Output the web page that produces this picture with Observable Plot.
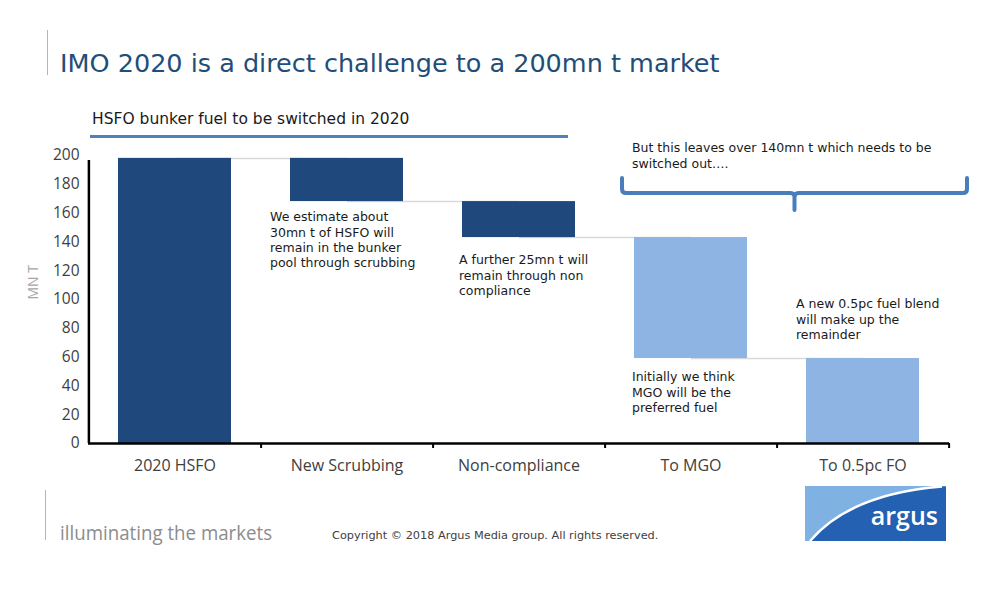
<!DOCTYPE html>
<html>
<head>
<meta charset="utf-8">
<script src="https://cdn.jsdelivr.net/npm/d3@7"></script>
<script src="https://cdn.jsdelivr.net/npm/@observablehq/plot@0.6"></script>
<style>
  body { margin: 0; background: #fff; }
  #page { position: relative; width: 1000px; height: 600px; overflow: hidden; font-family: "DejaVu Sans", Verdana, sans-serif; }
  .vline { position: absolute; width: 1px; background: #b5b5b5; }
  #title { position: absolute; left: 60px; top: 48px; font-size: 25.5px; color: #1f4e79; white-space: nowrap; }
  #subtitle { position: absolute; left: 92px; top: 110px; font-size: 15.5px; color: #1a1a1a; white-space: nowrap; }
  #underline { position: absolute; left: 90px; top: 135px; width: 478px; height: 3px; background: #4f81bd; }
  #chart { position: absolute; left: 0; top: 100px; }
  #tagline { position: absolute; left: 60px; top: 519px; font-family: "Open Sans", sans-serif; font-size: 20px; color: #8c8c8c; white-space: nowrap; transform-origin: 0 0; transform: scaleX(0.935); }
  #copyright { position: absolute; left: 332px; top: 529px; font-size: 11.3px; color: #404040; white-space: nowrap; }
  #logo { position: absolute; left: 805px; top: 486px; }
</style>
</head>
<body>
<div id="page">
  <div class="vline" style="left:47px;top:30px;height:45px;"></div>
  <div id="title">IMO 2020 is a direct challenge to a 200mn t market</div>
  <div id="subtitle">HSFO bunker fuel to be switched in 2020</div>
  <div id="underline"></div>
  <div id="chart"></div>
  <div class="vline" style="left:45px;top:490px;height:50px;"></div>
  <div id="tagline">illuminating the markets</div>
  <div id="copyright">Copyright © 2018 Argus Media group. All rights reserved.</div>
  <svg id="logo" width="141" height="55" viewBox="0 0 141 55">
    <rect width="141" height="55" fill="#2461b2"></rect>
    <path d="M0,0 H141 V0.5 H137 Q45,8 5,55 H0 Z" fill="#7fb1e3"></path>
    <path d="M5,55 Q45,8 137,0.5" fill="none" stroke="#ffffff" stroke-width="2.5"></path>
    <text x="133" y="39" text-anchor="end" fill="#ffffff" font-family="Open Sans, sans-serif" font-weight="600" font-size="25">argus</text>
  </svg>
</div>
<script>
// Waterfall of the 2020 HSFO bunker pool, mn t
const categories = ["2020 HSFO", "New Scrubbing", "Non-compliance", "To MGO", "To 0.5pc FO"];
const amounts = [198, 30, 25, 84, 59];
const isTotal = [true, false, false, false, true];
const shades = ["dark", "dark", "dark", "light", "light"];
const yTicks = [0, 20, 40, 60, 80, 100, 120, 140, 160, 180, 200];

const noteScrubbing = "We estimate about\n30mn t of HSFO will\nremain in the bunker\npool through scrubbing";
const noteNonCompliance = "A further 25mn t will\nremain through non\ncompliance";
const noteMGO = "Initially we think\nMGO will be the\npreferred fuel";
const noteFO = "A new 0.5pc fuel blend\nwill make up the\nremainder";
const noteBracket = "But this leaves over 140mn t which needs to be\nswitched out….";

// Build floating bars: totals start at zero, steps hang from the running level
let level = 0;
const bars = categories.map((c, i) => {
  if (isTotal[i]) {
    level = amounts[i];
    return {c, lo: 0, hi: amounts[i], shade: shades[i]};
  }
  const hi = level;
  level -= amounts[i];
  return {c, lo: level, hi, shade: shades[i]};
});
// Connector lines join each bar's outgoing level to the next bar
const connectors = bars.slice(0, -1).map((b, i) => ({
  from: b.c, to: bars[i + 1].c, level: isTotal[i] ? b.hi : b.lo
}));

const W = 1000, H = 380, ML = 88, MR = 51, MT = 55, MB = 37;
const step = (W - ML - MR) / categories.length;
const textFont = "DejaVu Sans, Verdana, sans-serif";
const axisFont = "Open Sans, sans-serif";
const noteStyle = {textAnchor: "start", lineAnchor: "top", fontSize: 12.5, lineHeight: 1.22, fill: "#1a1a1a", fontFamily: textFont};

const chart = Plot.plot({
  width: W, height: H,
  marginLeft: ML, marginRight: MR, marginTop: MT, marginBottom: MB,
  style: {background: "transparent", overflow: "visible"},
  x: {domain: categories, paddingInner: 0.345, paddingOuter: 0.1725, axis: null},
  y: {domain: [0, 200], axis: null},
  color: {domain: ["dark", "light"], range: ["#1f497d", "#8db4e2"]},
  marks: [
    Plot.link(connectors, {x1: "from", x2: "to", y1: "level", y2: "level", stroke: "#d9d9d9", strokeWidth: 1.5}),
    Plot.barY(bars, {x: "c", y1: "lo", y2: "hi", fill: "shade"}),
    // axis lines
    Plot.ruleY([0], {stroke: "#000", strokeWidth: 2.5}),
    Plot.ruleX([categories[0]], {x: d => d, y1: 0, y2: 200, dx: -step / 2, insetBottom: -5, stroke: "#000", strokeWidth: 2.5}),
    // boundary ticks along the category axis
    Plot.ruleX(categories, {x: d => d, y1: 0, y2: 0, dx: step / 2, insetBottom: -5, stroke: "#000", strokeWidth: 2}),
    // y axis ticks and labels
    Plot.ruleY(yTicks, {y: d => d, x1: categories[0], x2: categories[0], dx: -step / 2, insetLeft: -5, stroke: "#000", strokeWidth: 1.5}),
    Plot.text(yTicks, {y: d => d, frameAnchor: "left", dx: -9, textAnchor: "end", fontSize: 15.5, fill: "#404040", fontFamily: axisFont}),
    Plot.text(["MN T"], {frameAnchor: "left", rotate: -90, dx: -55, fontSize: 14, fill: "#a6a6a6", fontFamily: axisFont}),
    // category labels
    Plot.text(categories, {x: d => d, y: 0, dy: 22, fontSize: 16, fill: "#404040", fontFamily: axisFont}),
    // annotations
    Plot.text([noteScrubbing], {x: () => categories[1], y: () => bars[1].lo, dx: -77, dy: 9, ...noteStyle}),
    Plot.text([noteNonCompliance], {x: () => categories[2], y: () => bars[2].lo, dx: -60, dy: 16, ...noteStyle}),
    Plot.text([noteMGO], {x: () => categories[3], y: () => bars[3].lo, dx: -59, dy: 12, ...noteStyle}),
    Plot.text([noteFO], {x: () => categories[4], y: () => bars[4].hi, dx: -67, dy: -61, ...noteStyle}),
    Plot.text([noteBracket], {x: () => categories[3], y: () => 200, dx: -59, dy: -14, ...noteStyle})
  ]
});

// Curly bracket spanning the switched-out volumes
const xs = chart.scale("x");
const bx0 = xs.apply(categories[3]) - 12;
const bx1 = xs.apply(categories[4]) + xs.bandwidth + 48;
const bxm = (bx0 + bx1) / 2;
const yTop = 78, yMid = 93, yTip = 110;
d3.select(chart).append("path")
  .attr("d", `M${bx0},${yTop} V${yMid - 4} Q${bx0},${yMid} ${bx0 + 4},${yMid} H${bxm - 4} Q${bxm},${yMid} ${bxm},${yMid + 4} V${yTip} M${bxm},${yMid + 4} Q${bxm},${yMid} ${bxm + 4},${yMid} H${bx1 - 4} Q${bx1},${yMid} ${bx1},${yMid - 4} V${yTop}`)
  .attr("fill", "none")
  .attr("stroke", "#4a7ebb")
  .attr("stroke-width", 4)
  .attr("stroke-linecap", "round");

document.getElementById("chart").append(chart);
</script>
</body>
</html>
